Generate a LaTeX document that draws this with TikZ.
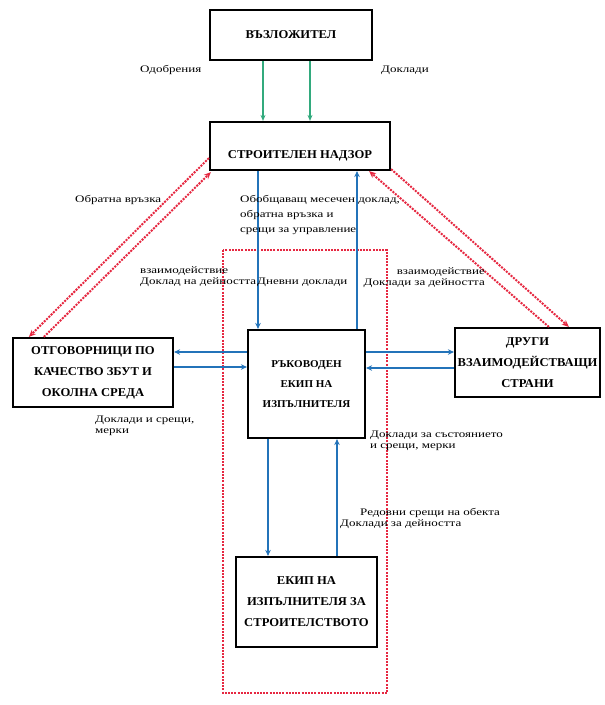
\documentclass[tikz,border=0pt]{standalone}
\usepackage{fontspec}
\setmainfont{Liberation Serif}
\newfontfamily\lblfont[FakeStretch=1.3]{Liberation Serif}
\newfontfamily\boxfont[FakeStretch=1.05]{Liberation Serif}
\usetikzlibrary{arrows.meta,calc}
\definecolor{cgreen}{RGB}{50,170,125}
\definecolor{cblue}{RGB}{35,115,185}
\definecolor{cred}{RGB}{230,40,65}
\begin{document}
\begin{tikzpicture}[x=1pt,y=-1pt,
  box/.style={draw=black, line width=2.2pt, fill=white, align=center, inner sep=2pt,
    font=\boxfont\bfseries\fontsize{12}{21}\selectfont},
  lbl/.style={font=\lblfont\fontsize{10}{11}\selectfont, inner sep=0pt},
  garrow/.style={draw=cgreen, line width=1.6pt, -{Stealth[length=6pt,width=5pt]}},
  barrow/.style={draw=cblue, line width=2pt, -{Stealth[length=6pt,width=5.5pt]}},
  rdots/.style={draw=cred, line width=2pt, dash pattern=on 2pt off 1.2pt},
  rarrow/.style={rdots, -{Stealth[length=7pt,width=6pt]}},
]
\useasboundingbox (0,0) rectangle (605,705);
\fill[white] (0,0) rectangle (605,705);

% red dotted frame
\draw[rdots] (223,250) rectangle (387,693);

% boxes
\node[box, minimum width=162pt, minimum height=50pt] (b1) at (291,35) {ВЪЗЛОЖИТЕЛ};
\node[box, minimum width=180pt, minimum height=48pt, text height=24pt, text depth=0pt] (b2) at (300,146) {СТРОИТЕЛЕН НАДЗОР};
\node[box, minimum width=117pt, minimum height=108pt, font=\boxfont\bfseries\fontsize{10.5}{20}\selectfont] (b3) at (306.5,384) {РЪКОВОДЕН\\ЕКИП НА\\ИЗПЪЛНИТЕЛЯ};
\node[box, minimum width=160pt, minimum height=69pt] (b4) at (93,372.5) {ОТГОВОРНИЦИ ПО\\КАЧЕСТВО ЗБУТ И\\ОКОЛНА СРЕДА};
\node[box, minimum width=145pt, minimum height=69pt] (b5) at (527.5,362.5) {ДРУГИ\\ВЗАИМОДЕЙСТВАЩИ\\СТРАНИ};
\node[box, minimum width=141pt, minimum height=90pt] (b6) at (306.5,602) {ЕКИП НА\\ИЗПЪЛНИТЕЛЯ ЗА\\СТРОИТЕЛСТВОТО};

% helper coordinates
\coordinate (gx1) at (263,0);
\coordinate (gx2) at (310,0);
\coordinate (bx1) at (258,0);
\coordinate (bx2) at (357,0);
\coordinate (bx3) at (268,0);
\coordinate (bx4) at (337,0);
\coordinate (hy1) at (0,352);
\coordinate (hy2) at (0,367);
\coordinate (hy3) at (0,368);

% green
\draw[garrow] (b1.south -| gx1) -- (b2.north -| gx1);
\draw[garrow] (b1.south -| gx2) -- (b2.north -| gx2);

% blue
\draw[barrow] (b2.south -| bx1) -- (b3.north -| bx1);
\draw[barrow] (b3.north -| bx2) -- (b2.south -| bx2);
\draw[barrow] (b3.south -| bx3) -- (b6.north -| bx3);
\draw[barrow] (b6.north -| bx4) -- (b3.south -| bx4);
\draw[barrow] (b3.west |- hy1) -- (b4.east |- hy1);
\draw[barrow] (b4.east |- hy2) -- (b3.west |- hy2);
\draw[barrow] (b3.east |- hy1) -- (b5.west |- hy1);
\draw[barrow] (b5.west |- hy3) -- (b3.east |- hy3);

% red dotted
\draw[rarrow] ($(b2.south west)+(0,-13)$) -- ($(b4.north west)+(17,0)$);
\draw[rarrow] ($(b4.north west)+(32,0)$) -- ($(b2.south west)+(2,1)$);
\draw[rarrow] ($(b5.north west)+(95,0)$) -- ($(b2.south east)+(-22,0)$);
\draw[rarrow] ($(b2.south east)+(0,-2)$) -- ($(b5.north west)+(115,0)$);

% labels
\node[lbl, anchor=west] (l1) at (140,70) {Одобрения};
\node[lbl, anchor=west] (l2) at (381,70) {Доклади};
\node[lbl, anchor=west] (l3) at (75,200) {Обратна връзка};
\node[lbl, anchor=north west, align=left, font=\lblfont\fontsize{10}{15}\selectfont] (l4) at (240,195) {Обобщаващ месечен доклад,\\обратна връзка и\\срещи за управление};
\node[lbl, anchor=west, align=left] (l5) at (140,277) {взаимодействие\\Доклад на дейността};
\node[lbl, anchor=west] (l6) at (257,282) {Дневни доклади};
\node[lbl, anchor=east, align=right] (l7) at (485,278) {взаимодействие\\Доклади за дейността};
\node[lbl, anchor=west, align=left] (l8) at (95,426) {Доклади и срещи,\\мерки};
\node[lbl, anchor=west, align=left] (l9) at (370,441) {Доклади за състоянието\\и срещи, мерки};
\node[lbl, anchor=west, align=left] (l10) at (340,518) {\hspace*{20pt}Редовни срещи на обекта\\Доклади за дейността};
\end{tikzpicture}
\end{document}
